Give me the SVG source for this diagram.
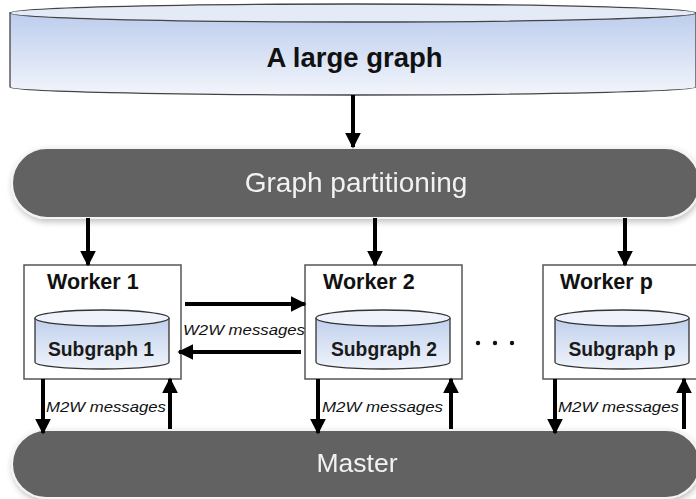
<svg xmlns="http://www.w3.org/2000/svg" width="696" height="499" viewBox="0 0 696 499">
<style>
.pill{fill:#626262;stroke:#f4f4f4;stroke-width:2}
.pilltxt{font-family:"Liberation Sans",Arial,sans-serif;fill:#f2f2f2;text-anchor:middle}
.box{fill:#ffffff;stroke:#555;stroke-width:1.5}
.wlbl{font-family:"Liberation Sans",Arial,sans-serif;font-size:21.5px;font-weight:bold;fill:#111}
.sg{font-family:"Liberation Sans",Arial,sans-serif;font-size:19.3px;font-weight:bold;fill:#1a1a1a;text-anchor:middle}
.cyl{fill:url(#cg);stroke:#333;stroke-width:1.3}
.cyltop{fill:#eef3fb;stroke:#333;stroke-width:1.3}
.msg{font-family:"Liberation Sans",Arial,sans-serif;font-size:15.5px;font-style:italic;fill:#111}
.arr{stroke:#000;stroke-width:4;fill:none;marker-end:url(#ah)}
</style>
<defs>
<linearGradient id="cg" x1="0" y1="0" x2="0" y2="1">
<stop offset="0" stop-color="#bfd0ec"/>
<stop offset="1" stop-color="#f0f4fb"/>
</linearGradient>
<linearGradient id="tg" x1="0" y1="0" x2="0" y2="1">
<stop offset="0" stop-color="#bccded"/>
<stop offset="1" stop-color="#f2f5fb"/>
</linearGradient>
<marker id="ah" viewBox="0 0 10 10" refX="9" refY="5" markerWidth="4" markerHeight="4" orient="auto" markerUnits="strokeWidth">
<path d="M0,0 L10,5 L0,10 Z" fill="#000"/>
</marker>
<filter id="sh" x="-5%" y="-20%" width="110%" height="150%">
<feGaussianBlur in="SourceAlpha" stdDeviation="3"/>
<feOffset dx="1" dy="3"/>
<feComponentTransfer><feFuncA type="linear" slope="0.25"/></feComponentTransfer>
<feMerge><feMergeNode/><feMergeNode in="SourceGraphic"/></feMerge>
</filter>
</defs>

<g id="large-graph">
<path d="M10,13 L10,87 A343,8 0 0 0 696,87 L696,13 Z" fill="url(#tg)" stroke="#444" stroke-width="1.3"/>
<ellipse cx="353" cy="13" rx="343" ry="9" fill="#e4ebf7" stroke="#444" stroke-width="1.3"/>
<text x="354.5" y="67" font-family="'Liberation Sans',Arial,sans-serif" font-size="27.5" font-weight="bold" fill="#111" text-anchor="middle">A large graph</text>
</g>

<g id="partitioning" filter="url(#sh)">
<rect class="pill" x="12" y="148" width="688" height="70" rx="35"/>
<text class="pilltxt" x="356" y="192" font-size="28">Graph partitioning</text>
</g>

<g id="worker1">
<rect class="box" x="24" y="265" width="157" height="114"/>
<text class="wlbl" x="47" y="289">Worker 1</text>
<path class="cyl" d="M35,318 L35,362 A67,7 0 0 0 169,362 L169,318"/>
<ellipse class="cyltop" cx="102" cy="318" rx="67" ry="8"/>
<text class="sg" x="101" y="356">Subgraph 1</text>
</g>

<g id="worker2">
<rect class="box" x="305" y="265" width="157" height="114"/>
<text class="wlbl" x="323" y="289">Worker 2</text>
<path class="cyl" d="M316,318 L316,362 A67,7 0 0 0 450,362 L450,318"/>
<ellipse class="cyltop" cx="383" cy="318" rx="67" ry="8"/>
<text class="sg" x="384" y="356">Subgraph 2</text>
</g>

<g id="workerp">
<rect class="box" x="543" y="265" width="160" height="114"/>
<text class="wlbl" x="560" y="289">Worker p</text>
<path class="cyl" d="M555,318 L555,362 A67,7 0 0 0 689,362 L689,318"/>
<ellipse class="cyltop" cx="622" cy="318" rx="67" ry="8"/>
<text class="sg" x="622" y="356">Subgraph p</text>
</g>

<g id="dots">
<circle cx="478" cy="343" r="2.2" fill="#111"/>
<circle cx="495" cy="343" r="2.2" fill="#111"/>
<circle cx="512" cy="343" r="2.2" fill="#111"/>
</g>

<g id="master" filter="url(#sh)">
<rect class="pill" x="12" y="430" width="688" height="68" rx="34"/>
<text class="pilltxt" x="357" y="472" font-size="26.5">Master</text>
</g>

<g id="connectors">
<line class="arr" x1="353" y1="95" x2="353" y2="147"/>
<line class="arr" x1="88" y1="218" x2="88" y2="265"/>
<line class="arr" x1="375" y1="218" x2="375" y2="265"/>
<line class="arr" x1="625" y1="218" x2="625" y2="265"/>
<line class="arr" x1="185" y1="304" x2="305" y2="304"/>
<line class="arr" x1="301" y1="352" x2="179" y2="352"/>
<text class="msg" x="183" y="335" textLength="122" lengthAdjust="spacingAndGlyphs">W2W messages</text>
<line class="arr" x1="43" y1="379" x2="43" y2="433"/>
<line class="arr" x1="170" y1="429" x2="170" y2="379"/>
<text class="msg" x="46" y="412" textLength="120" lengthAdjust="spacingAndGlyphs">M2W messages</text>
<line class="arr" x1="318" y1="379" x2="318" y2="433"/>
<line class="arr" x1="451" y1="429" x2="451" y2="379"/>
<text class="msg" x="322" y="412" textLength="121" lengthAdjust="spacingAndGlyphs">M2W messages</text>
<line class="arr" x1="555" y1="379" x2="555" y2="433"/>
<line class="arr" x1="684" y1="429" x2="684" y2="379"/>
<text class="msg" x="558" y="412" textLength="121" lengthAdjust="spacingAndGlyphs">M2W messages</text>
</g>
</svg>
